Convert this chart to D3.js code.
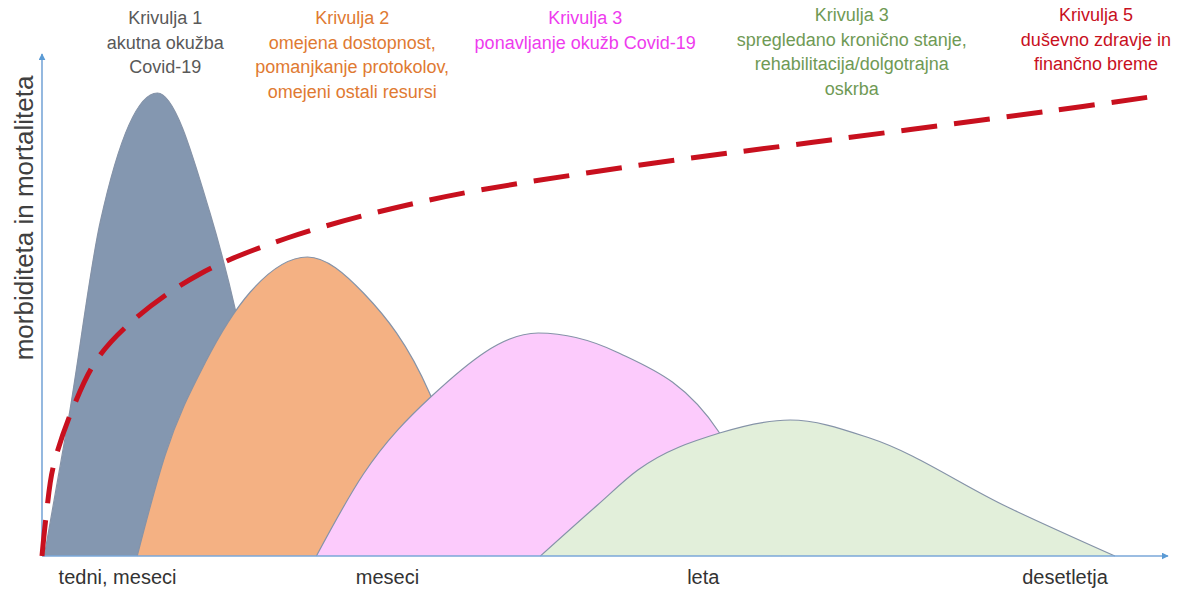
<!DOCTYPE html>
<html>
<head>
<meta charset="utf-8">
<script src="https://cdn.jsdelivr.net/npm/d3@7"></script>
<style>
  body { margin: 0; background: #fff; }
  text { font-family: "Liberation Sans", Arial, sans-serif; }
</style>
</head>
<body>
<div id="chart"></div>
<script>
// CURVES OF THE PANDEMIC
// x = time (0-100), y = morbidity / mortality (0-100)

var curve1 = [[0.2,0],[2.5,29.2],[5.2,66.8],[10.3,92.6],[15.0,68.6],[18.6,35.2],[21.3,0]];
var curve2 = [[8.5,0],[11.0,20.2],[14.6,38.8],[18.6,52.8],[23.7,59.8],[28.7,52.6],[34.6,32.6],[39.6,0]];
var curve3 = [[24.5,0],[28.7,16.4],[34.8,32.0],[44.3,44.6],[51.3,40.8],[60.5,24.6],[66.1,0]];
var curve4 = [[44.5,0],[49.6,10.2],[53.2,17.2],[60.5,24.6],[66.8,27.2],[73.9,23.6],[86.2,9.8],[95.8,0]];
var curve5 = [[0,0],[0.4,8.6],[1.0,17.8],[2.8,29.8],[5.0,39.6],[8.5,47.8],[14.1,56.4],[21.9,63.6],[34.6,71.2],
  [51.6,77.6],[70.4,83.2],[90.0,89.0],[98.9,91.8]];

var xLabels = ["tedni, meseci", "meseci", "leta", "desetletja"];
var xLabelPos = [6.7, 30.8, 59.0, 91.3];
var yLabel = "morbiditeta in mortaliteta";

var titles = [
  ["Krivulja 1", "akutna okužba", "Covid-19"],
  ["Krivulja 2", "omejena dostopnost,", "pomanjkanje protokolov,", "omejeni ostali resursi"],
  ["Krivulja 3", "ponavljanje okužb Covid-19"],
  ["Krivulja 3", "spregledano kronično stanje,", "rehabilitacija/dolgotrajna", "oskrba"],
  ["Krivulja 5", "duševno zdravje in", "finančno breme"]
];
var titlePos = [11.0, 27.7, 48.5, 72.3, 94.1];

// styles
var fills = ["#8497b0", "#f4b183", "#fccbfc", "#e2efda"];
var titleColors = ["#595959", "#e07a32", "#ee3bee", "#6f9a55", "#c8101e"];
var titleTop = [24, 24, 24, 21, 21];

var margin = {top: 56, right: 18, bottom: 33, left: 42},
    width = 1180 - margin.left - margin.right,
    height = 589 - margin.top - margin.bottom;

var svg = d3.select("#chart")
  .append("svg")
    .attr("width", 1180)
    .attr("height", 589);

var g = svg.append("g")
    .attr("transform", "translate(" + margin.left + "," + margin.top + ")");

var x = d3.scaleLinear().domain([0, 100]).range([0, width]);
var y = d3.scaleLinear().domain([0, 100]).range([height, 0]);

// smooth humps
var hump = d3.line()
  .x(function(d) { return x(d[0]); })
  .y(function(d) { return y(d[1]); })
  .curve(d3.curveMonotoneX);

var line = d3.line()
  .x(function(d) { return x(d[0]); })
  .y(function(d) { return y(d[1]); })
  .curve(d3.curveCatmullRom.alpha(0.5));

// arrow marker for the axes
svg.append("defs").append("marker")
    .attr("id", "arrow")
    .attr("viewBox", "0 0 10 10")
    .attr("refX", 9).attr("refY", 5)
    .attr("markerWidth", 7).attr("markerHeight", 7)
    .attr("markerUnits", "userSpaceOnUse")
    .attr("orient", "auto")
  .append("path")
    .attr("d", "M0,0L10,5L0,10Z")
    .attr("fill", "#5b9bd5");

// filled curves, back to front
[curve1, curve2, curve3, curve4].forEach(function(c, i) {
  g.append("path")
    .datum(c)
    .attr("d", hump)
    .attr("fill", fills[i])
    .attr("stroke", "#8593a8")
    .attr("stroke-width", 1.2);
});

// axes
g.append("line")
  .attr("x1", x(0)).attr("y1", y(0))
  .attr("x2", x(0)).attr("y2", y(100) - 2)
  .attr("stroke", "#7aa7d8").attr("stroke-width", 1.6)
  .attr("marker-end", "url(#arrow)");
g.append("line")
  .attr("x1", x(0)).attr("y1", y(0))
  .attr("x2", x(100) + 6).attr("y2", y(0))
  .attr("stroke", "#7aa7d8").attr("stroke-width", 1.6)
  .attr("marker-end", "url(#arrow)");

// red dashed curve
g.append("path")
  .datum(curve5)
  .attr("d", line)
  .attr("fill", "none")
  .attr("stroke", "#c8101e")
  .attr("stroke-width", 5)
  .attr("stroke-dasharray", "36,17");

// x labels
var xAxis = g.append("g")
  .attr("transform", "translate(0," + height + ")")
  .call(d3.axisBottom(x)
    .tickValues(xLabelPos)
    .tickFormat(function(d, i) { return xLabels[i]; })
    .tickSize(0)
    .tickPadding(14));
xAxis.select(".domain").remove();
xAxis.selectAll("text")
  .attr("fill", "#333")
  .style("font-size", "20px")
  .style("font-family", "'Liberation Sans', Arial, sans-serif");

// y label
svg.append("text")
  .attr("transform", "translate(33," + (margin.top + 162) + ") rotate(-90)")
  .attr("text-anchor", "middle")
  .attr("fill", "#404040")
  .style("font-size", "26px")
  .text(yLabel);

// titles above the curves
titles.forEach(function(lines, i) {
  var t = svg.append("text")
    .attr("text-anchor", "middle")
    .attr("fill", titleColors[i])
    .style("font-size", "18px");
  lines.forEach(function(s, j) {
    t.append("tspan")
      .attr("x", margin.left + x(titlePos[i]))
      .attr("y", titleTop[i] + j * 24.5)
      .text(s);
  });
});
</script>
</body>
</html>
